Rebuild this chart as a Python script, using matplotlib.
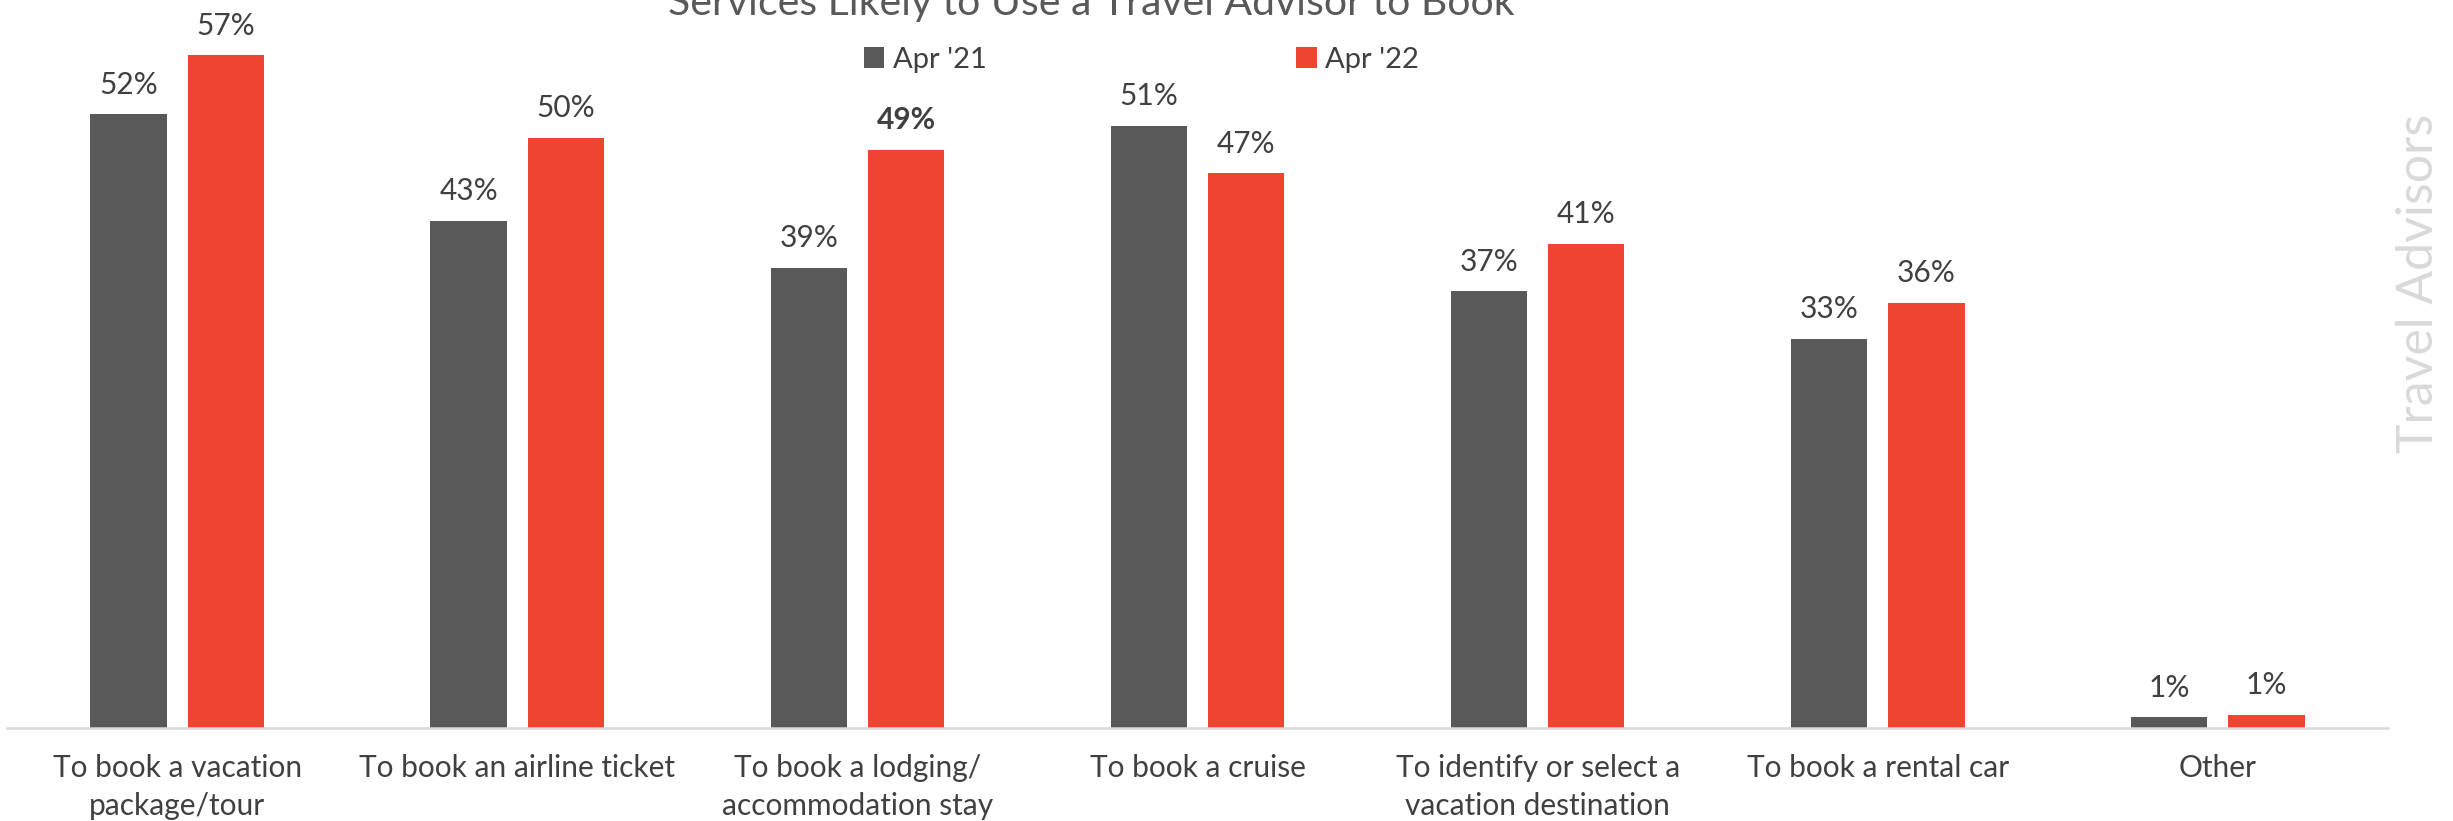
"""
Services likely to use a travel advisor to book - grouped bar chart
"""
import matplotlib.pyplot as plt
import numpy as np

plt.rcParams['font.family'] = ['Lato', 'DejaVu Sans']

# Data
categories = ["To book a vacation\npackage/tour", "To book an airline ticket",
              "To book a lodging/\naccommodation stay", "To book a cruise",
              "To identify or select a\nvacation destination", "To book a rental car",
              "Other"]
apr21 = [52, 43, 39, 51, 37, 33, 0.9]
apr22 = [57, 50, 49, 47, 41, 36, 1.1]
series_names = ["Apr '21", "Apr '22"]
bold_labels = {(1, 2)}  # (series index, category index)

dark = '#595959'
red = '#EE4430'
text_col = '#404040'

fig = plt.figure(figsize=(24.53, 8.21), dpi=100)
ax = fig.add_axes([7 / 2453, 1 - 728 / 821, 2381 / 2453, 708 / 821])

x = np.arange(len(categories))
w = 0.224
off = 0.143
b1 = ax.bar(x - off, apr21, w, color=dark, label=series_names[0])
b2 = ax.bar(x + off, apr22, w, color=red, label=series_names[1])

# value labels
for s, bars in enumerate([b1, b2]):
    for i, rect in enumerate(bars):
        v = rect.get_height()
        ax.annotate(f"{round(v):.0f}%", (rect.get_x() + rect.get_width() / 2, v),
                    xytext=(0, 15), textcoords='offset points',
                    ha='center', va='baseline', fontsize=21.5, color=text_col,
                    fontweight='bold' if (s, i) in bold_labels else 'normal',
                    annotation_clip=False)

ax.set_xlim(-0.5, len(categories) - 0.5)
ax.set_ylim(0, 60)
ax.set_xticks(x)
ax.set_xticklabels(categories, fontsize=21.5, color=text_col, linespacing=1.4)
ax.tick_params(axis='x', length=0, pad=19)
ax.set_yticks([])
for sp in ['top', 'right', 'left']:
    ax.spines[sp].set_visible(False)
ax.spines['bottom'].set_color('#d9d9d9')
ax.spines['bottom'].set_linewidth(1.8)

# Title (partly cut off at the top in the original)
fig.text(1091 / 2453, 1 - 15 / 821, "Services Likely to Use a Travel Advisor to Book",
         ha='center', va='baseline', fontsize=29.5, color=dark)

fig.legend(handles=[b1, b2], labels=series_names, loc='center left',
           bbox_to_anchor=(864 / 2453, 1 - 60 / 821), ncol=2, frameon=False,
           fontsize=21, handlelength=0.7, handleheight=0.72, handletextpad=0.3,
           columnspacing=10.6, borderpad=0, borderaxespad=0, labelcolor=text_col)

fig.text(2419 / 2453, 1 - 283 / 821, "Travel Advisors", rotation=90,
         ha='center', va='center', fontsize=36, color='#d9d9d9')

fig.savefig("out.png", dpi=100)
